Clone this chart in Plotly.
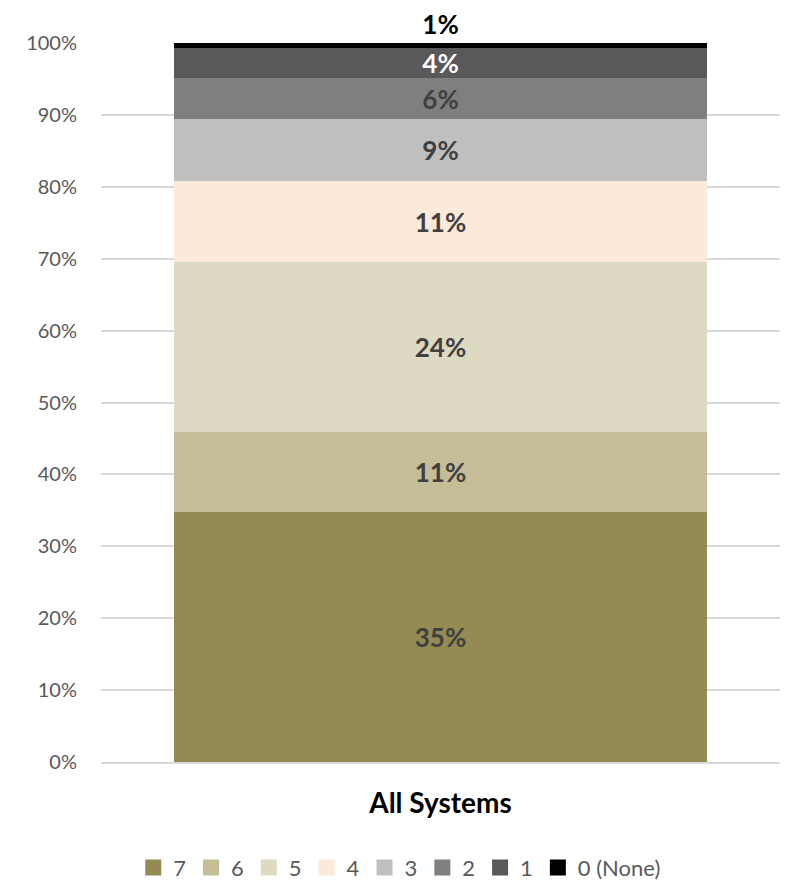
import plotly.graph_objects as go

# share of systems by score, one stacked 100% bar
category = ["All Systems"]
levels = ["7", "6", "5", "4", "3", "2", "1", "0 (None)"]
shares = [34.8, 11.1, 23.6, 11.3, 8.6, 5.7, 4.2, 0.7]
labels = ["35%", "11%", "24%", "11%", "9%", "6%", "4%", "1%"]
y_ticks = [0, 10, 20, 30, 40, 50, 60, 70, 80, 90, 100]

colors = ["#948A54", "#C4BD97", "#DDD9C3", "#FDE9D9", "#BFBFBF", "#7F7F7F", "#595959", "#000000"]
text_colors = ["#404040", "#404040", "#404040", "#404040", "#404040", "#404040", "#FFFFFF", "#000000"]

fig = go.Figure()
for i, lev in enumerate(levels):
    last = i == len(levels) - 1
    fig.add_trace(go.Bar(
        x=category,
        y=[shares[i]],
        name=lev,
        marker=dict(color=colors[i], line=dict(width=0)),
        text=[labels[i]],
        textposition="outside" if last else "inside",
        insidetextanchor="middle",
        textangle=0,
        constraintext="none",
        cliponaxis=False,
        textfont=dict(family="Lato", size=26, color=text_colors[i], weight="bold"),
        hoverinfo="name+y",
        showlegend=False,
    ))

# legend entries with bigger square swatches
for i, lev in enumerate(levels):
    fig.add_trace(go.Scatter(
        x=[None], y=[None],
        mode="markers",
        name=lev,
        marker=dict(symbol="square", size=16, color=colors[i]),
    ))

fig.update_layout(
    barmode="stack",
    bargap=0.216,
    width=782,
    height=874,
    margin=dict(l=93, r=10, t=35, b=120, autoexpand=False),
    paper_bgcolor="white",
    plot_bgcolor="white",
    font=dict(family="Lato", color="#595959"),
    legend=dict(
        orientation="h",
        x=0.44, xanchor="center",
        y=-0.147, yanchor="middle",
        font=dict(size=22, color="#595959"),
        itemwidth=30,
        tracegroupgap=0,
        traceorder="normal",
    ),
)
fig.update_yaxes(
    range=[0, 100],
    tickmode="array",
    tickvals=y_ticks,
    ticktext=[f"{v}%" for v in y_ticks],
    showgrid=True,
    gridcolor="#D9D9D9",
    gridwidth=1.5,
    zeroline=False,
    tickfont=dict(size=20, color="#595959"),
    ticklabelstandoff=23,
)
fig.update_xaxes(
    showgrid=False,
    showline=True,
    linecolor="#D9D9D9",
    linewidth=1.5,
    tickfont=dict(size=28, color="#000000", weight="bold"),
    ticklabelstandoff=16,
)

fig.write_html("out.html")
